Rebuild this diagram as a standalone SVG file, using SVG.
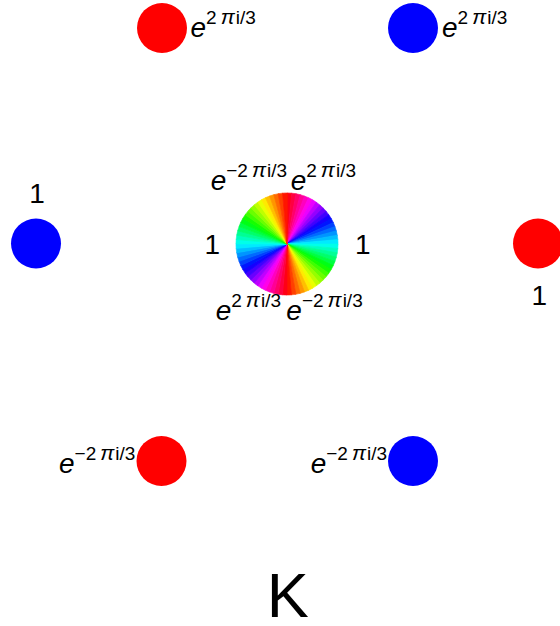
<svg xmlns="http://www.w3.org/2000/svg" xmlns:xlink="http://www.w3.org/1999/xlink" width="560" height="626" viewBox="0 0 560 626">
<style>
text{font-family:"Liberation Sans",Arial,sans-serif;fill:#000}
.n{font-size:28px;text-anchor:middle}
.l{font-size:28px}
.e{font-style:italic}
.s{font-size:19px}
.p{font-style:italic;font-size:21px}
.red{fill:#ff0000}
.blue{fill:#0000ff}
.k{font-size:63px;text-anchor:middle}
</style>
<defs>
<path id="w" d="M0,0 L0,-51 A51,51 0 0 1 4.888,-50.765 Z" fill="currentColor" stroke="currentColor" stroke-width="0.6" stroke-linejoin="round"/>
</defs>
<rect width="560" height="626" fill="#fff"/>
<g id="connectors"></g>
<g id="node-top-red"><circle class="red" cx="162" cy="28" r="25"/>
<text class="l" x="190.5" y="37"><tspan class="e">e</tspan><tspan class="s" dy="-13">2<tspan class="p" dx="4">π</tspan><tspan dx="1">i/3</tspan></tspan></text></g>
<g id="node-top-blue"><circle class="blue" cx="413" cy="28" r="25"/>
<text class="l" x="442" y="37"><tspan class="e">e</tspan><tspan class="s" dy="-13">2<tspan class="p" dx="4">π</tspan><tspan dx="1">i/3</tspan></tspan></text></g>
<g id="node-left-blue"><circle class="blue" cx="36" cy="243.5" r="25"/>
<text class="n" x="37" y="203">1</text></g>
<g id="node-right-red"><circle class="red" cx="538" cy="243.5" r="25"/>
<text class="n" x="539.3" y="305">1</text></g>
<g id="node-bottom-left-red"><circle class="red" cx="161.5" cy="461" r="25"/>
<text class="l" x="59" y="473"><tspan class="e">e</tspan><tspan class="s" dy="-13">−2<tspan class="p" dx="4">π</tspan><tspan dx="1">i/3</tspan></tspan></text></g>
<g id="node-bottom-right-blue"><circle class="blue" cx="413" cy="461" r="25"/>
<text class="l" x="310.7" y="473"><tspan class="e">e</tspan><tspan class="s" dy="-13">−2<tspan class="p" dx="4">π</tspan><tspan dx="1">i/3</tspan></tspan></text></g>
<g id="node-center">
<g transform="translate(287,244)">
<use xlink:href="#w" transform="rotate(0)" color="hsl(355,100%,50%)"/>
<use xlink:href="#w" transform="rotate(5)" color="hsl(345,100%,50%)"/>
<use xlink:href="#w" transform="rotate(10)" color="hsl(335,100%,50%)"/>
<use xlink:href="#w" transform="rotate(15)" color="hsl(325,100%,50%)"/>
<use xlink:href="#w" transform="rotate(20)" color="hsl(315,100%,50%)"/>
<use xlink:href="#w" transform="rotate(25)" color="hsl(305,100%,50%)"/>
<use xlink:href="#w" transform="rotate(30)" color="hsl(295,100%,50%)"/>
<use xlink:href="#w" transform="rotate(35)" color="hsl(285,100%,50%)"/>
<use xlink:href="#w" transform="rotate(40)" color="hsl(275,100%,50%)"/>
<use xlink:href="#w" transform="rotate(45)" color="hsl(265,100%,50%)"/>
<use xlink:href="#w" transform="rotate(50)" color="hsl(255,100%,50%)"/>
<use xlink:href="#w" transform="rotate(55)" color="hsl(245,100%,50%)"/>
<use xlink:href="#w" transform="rotate(60)" color="hsl(235,100%,50%)"/>
<use xlink:href="#w" transform="rotate(65)" color="hsl(225,100%,50%)"/>
<use xlink:href="#w" transform="rotate(70)" color="hsl(215,100%,50%)"/>
<use xlink:href="#w" transform="rotate(75)" color="hsl(205,100%,50%)"/>
<use xlink:href="#w" transform="rotate(80)" color="hsl(195,100%,50%)"/>
<use xlink:href="#w" transform="rotate(85)" color="hsl(185,100%,50%)"/>
<use xlink:href="#w" transform="rotate(90)" color="hsl(175,100%,50%)"/>
<use xlink:href="#w" transform="rotate(95)" color="hsl(165,100%,50%)"/>
<use xlink:href="#w" transform="rotate(100)" color="hsl(155,100%,50%)"/>
<use xlink:href="#w" transform="rotate(105)" color="hsl(145,100%,50%)"/>
<use xlink:href="#w" transform="rotate(110)" color="hsl(135,100%,50%)"/>
<use xlink:href="#w" transform="rotate(115)" color="hsl(125,100%,50%)"/>
<use xlink:href="#w" transform="rotate(120)" color="hsl(115,100%,50%)"/>
<use xlink:href="#w" transform="rotate(125)" color="hsl(105,100%,50%)"/>
<use xlink:href="#w" transform="rotate(130)" color="hsl(95,100%,50%)"/>
<use xlink:href="#w" transform="rotate(135)" color="hsl(85,100%,50%)"/>
<use xlink:href="#w" transform="rotate(140)" color="hsl(75,100%,50%)"/>
<use xlink:href="#w" transform="rotate(145)" color="hsl(65,100%,50%)"/>
<use xlink:href="#w" transform="rotate(150)" color="hsl(55,100%,50%)"/>
<use xlink:href="#w" transform="rotate(155)" color="hsl(45,100%,50%)"/>
<use xlink:href="#w" transform="rotate(160)" color="hsl(35,100%,50%)"/>
<use xlink:href="#w" transform="rotate(165)" color="hsl(25,100%,50%)"/>
<use xlink:href="#w" transform="rotate(170)" color="hsl(15,100%,50%)"/>
<use xlink:href="#w" transform="rotate(175)" color="hsl(5,100%,50%)"/>
<use xlink:href="#w" transform="rotate(180)" color="hsl(355,100%,50%)"/>
<use xlink:href="#w" transform="rotate(185)" color="hsl(345,100%,50%)"/>
<use xlink:href="#w" transform="rotate(190)" color="hsl(335,100%,50%)"/>
<use xlink:href="#w" transform="rotate(195)" color="hsl(325,100%,50%)"/>
<use xlink:href="#w" transform="rotate(200)" color="hsl(315,100%,50%)"/>
<use xlink:href="#w" transform="rotate(205)" color="hsl(305,100%,50%)"/>
<use xlink:href="#w" transform="rotate(210)" color="hsl(295,100%,50%)"/>
<use xlink:href="#w" transform="rotate(215)" color="hsl(285,100%,50%)"/>
<use xlink:href="#w" transform="rotate(220)" color="hsl(275,100%,50%)"/>
<use xlink:href="#w" transform="rotate(225)" color="hsl(265,100%,50%)"/>
<use xlink:href="#w" transform="rotate(230)" color="hsl(255,100%,50%)"/>
<use xlink:href="#w" transform="rotate(235)" color="hsl(245,100%,50%)"/>
<use xlink:href="#w" transform="rotate(240)" color="hsl(235,100%,50%)"/>
<use xlink:href="#w" transform="rotate(245)" color="hsl(225,100%,50%)"/>
<use xlink:href="#w" transform="rotate(250)" color="hsl(215,100%,50%)"/>
<use xlink:href="#w" transform="rotate(255)" color="hsl(205,100%,50%)"/>
<use xlink:href="#w" transform="rotate(260)" color="hsl(195,100%,50%)"/>
<use xlink:href="#w" transform="rotate(265)" color="hsl(185,100%,50%)"/>
<use xlink:href="#w" transform="rotate(270)" color="hsl(175,100%,50%)"/>
<use xlink:href="#w" transform="rotate(275)" color="hsl(165,100%,50%)"/>
<use xlink:href="#w" transform="rotate(280)" color="hsl(155,100%,50%)"/>
<use xlink:href="#w" transform="rotate(285)" color="hsl(145,100%,50%)"/>
<use xlink:href="#w" transform="rotate(290)" color="hsl(135,100%,50%)"/>
<use xlink:href="#w" transform="rotate(295)" color="hsl(125,100%,50%)"/>
<use xlink:href="#w" transform="rotate(300)" color="hsl(115,100%,50%)"/>
<use xlink:href="#w" transform="rotate(305)" color="hsl(105,100%,50%)"/>
<use xlink:href="#w" transform="rotate(310)" color="hsl(95,100%,50%)"/>
<use xlink:href="#w" transform="rotate(315)" color="hsl(85,100%,50%)"/>
<use xlink:href="#w" transform="rotate(320)" color="hsl(75,100%,50%)"/>
<use xlink:href="#w" transform="rotate(325)" color="hsl(65,100%,50%)"/>
<use xlink:href="#w" transform="rotate(330)" color="hsl(55,100%,50%)"/>
<use xlink:href="#w" transform="rotate(335)" color="hsl(45,100%,50%)"/>
<use xlink:href="#w" transform="rotate(340)" color="hsl(35,100%,50%)"/>
<use xlink:href="#w" transform="rotate(345)" color="hsl(25,100%,50%)"/>
<use xlink:href="#w" transform="rotate(350)" color="hsl(15,100%,50%)"/>
<use xlink:href="#w" transform="rotate(355)" color="hsl(5,100%,50%)"/>
</g>
<text class="l" x="210.7" y="190"><tspan class="e">e</tspan><tspan class="s" dy="-13">−2<tspan class="p" dx="4">π</tspan><tspan dx="1">i/3</tspan></tspan></text>
<text class="l" x="290.7" y="190"><tspan class="e">e</tspan><tspan class="s" dy="-13">2<tspan class="p" dx="4">π</tspan><tspan dx="1">i/3</tspan></tspan></text>
<text class="n" x="212.4" y="254">1</text>
<text class="n" x="362.7" y="254">1</text>
<text class="l" x="215.7" y="320"><tspan class="e">e</tspan><tspan class="s" dy="-13">2<tspan class="p" dx="4">π</tspan><tspan dx="1">i/3</tspan></tspan></text>
<text class="l" x="286.3" y="320"><tspan class="e">e</tspan><tspan class="s" dy="-13">−2<tspan class="p" dx="4">π</tspan><tspan dx="1">i/3</tspan></tspan></text>
</g>
<g id="label-K"><text class="k" x="287.8" y="617">K</text></g>
</svg>
